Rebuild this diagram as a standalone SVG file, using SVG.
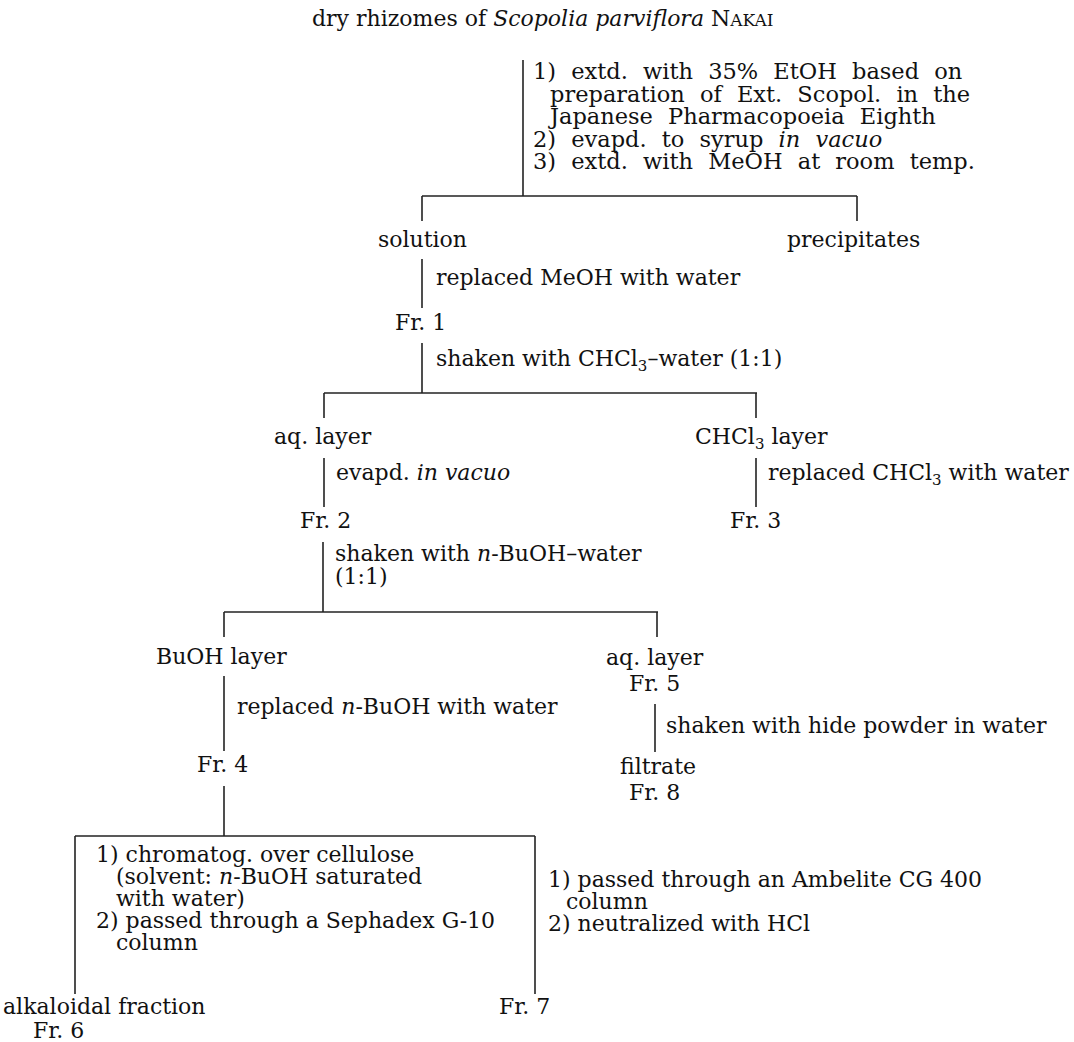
<svg xmlns="http://www.w3.org/2000/svg" width="1074" height="1042" viewBox="0 0 1074 1042">
<style>
text{font-family:"DejaVu Serif","Liberation Serif",serif;font-size:22px;fill:#111}
.i{font-style:italic}
.sc{font-size:17px}
.sb{font-size:15px}
.top{font-size:22.5px;word-spacing:8px}
.c line{stroke:#222;stroke-width:1.6;fill:none}
</style>
<rect width="1074" height="1042" fill="#fff"/>
<g id="connectors" class="c">
<line x1="523" y1="60" x2="523" y2="196"/>
<line x1="422" y1="196" x2="857" y2="196"/>
<line x1="422" y1="196" x2="422" y2="221"/>
<line x1="857" y1="196" x2="857" y2="221"/>
<line x1="422" y1="259" x2="422" y2="308"/>
<line x1="422" y1="343" x2="422" y2="393"/>
<line x1="324" y1="393" x2="757" y2="393"/>
<line x1="324" y1="393" x2="324" y2="418"/>
<line x1="756" y1="393" x2="756" y2="418"/>
<line x1="324" y1="458" x2="324" y2="507"/>
<line x1="756" y1="458" x2="756" y2="507"/>
<line x1="323" y1="542" x2="323" y2="612"/>
<line x1="224" y1="612" x2="658" y2="612"/>
<line x1="224" y1="612" x2="224" y2="637"/>
<line x1="657" y1="612" x2="657" y2="637"/>
<line x1="224" y1="676" x2="224" y2="751"/>
<line x1="655" y1="704" x2="655" y2="752"/>
<line x1="224" y1="786" x2="224" y2="836"/>
<line x1="75" y1="836" x2="535" y2="836"/>
<line x1="75" y1="836" x2="75" y2="994"/>
<line x1="535" y1="836" x2="535" y2="994"/>
</g>
<g id="labels">
<text class="top" x="533" y="79"><tspan>1) extd. with 35% EtOH based on</tspan><tspan x="550" dy="22.5">preparation of Ext. Scopol. in the</tspan><tspan x="550" dy="22.5">Japanese Pharmacopoeia Eighth</tspan><tspan x="533" dy="22.5">2) evapd. to syrup <tspan class="i">in vacuo</tspan></tspan><tspan x="533" dy="22.5">3) extd. with MeOH at room temp.</tspan></text>
<text x="436" y="285">replaced MeOH with water</text>
<text x="436" y="366">shaken with CHCl<tspan class="sb" dy="5">3</tspan><tspan dy="-5">–water (1:1)</tspan></text>
<text x="336" y="480">evapd. <tspan class="i">in vacuo</tspan></text>
<text x="768" y="480">replaced CHCl<tspan class="sb" dy="5">3</tspan><tspan dy="-5"> with water</tspan></text>
<text x="335" y="561"><tspan>shaken with <tspan class="i">n</tspan>-BuOH–water</tspan><tspan x="335" dy="23">(1:1)</tspan></text>
<text x="237" y="714">replaced <tspan class="i">n</tspan>-BuOH with water</text>
<text x="666" y="733">shaken with hide powder in water</text>
<text x="96" y="862"><tspan>1) chromatog. over cellulose</tspan><tspan x="116" dy="22">(solvent: <tspan class="i">n</tspan>-BuOH saturated</tspan><tspan x="116" dy="22">with water)</tspan><tspan x="96" dy="22">2) passed through a Sephadex G-10</tspan><tspan x="116" dy="22">column</tspan></text>
<text x="548" y="887"><tspan>1) passed through an Ambelite CG 400</tspan><tspan x="566" dy="22">column</tspan><tspan x="548" dy="22">2) neutralized with HCl</tspan></text>
</g>
<g id="n-start"><text x="312" y="26">dry rhizomes of <tspan class="i">Scopolia parviflora</tspan> N<tspan class="sc">AKAI</tspan></text></g>
<g id="n-solution"><text x="378" y="247">solution</text></g>
<g id="n-precipitates"><text x="787" y="247">precipitates</text></g>
<g id="n-fr1"><text x="395" y="330">Fr. 1</text></g>
<g id="n-aq1"><text x="274" y="444">aq. layer</text></g>
<g id="n-chcl3"><text x="695" y="444">CHCl<tspan class="sb" dy="5">3</tspan><tspan dy="-5"> layer</tspan></text></g>
<g id="n-fr2"><text x="300" y="528">Fr. 2</text></g>
<g id="n-fr3"><text x="730" y="528">Fr. 3</text></g>
<g id="n-buoh"><text x="156" y="664">BuOH layer</text></g>
<g id="n-fr5"><text x="606" y="665"><tspan>aq. layer</tspan><tspan x="629" dy="26">Fr. 5</tspan></text></g>
<g id="n-fr4"><text x="197" y="772">Fr. 4</text></g>
<g id="n-fr8"><text x="620" y="774"><tspan>filtrate</tspan><tspan x="629" dy="26">Fr. 8</tspan></text></g>
<g id="n-fr6"><text x="3" y="1014"><tspan>alkaloidal fraction</tspan><tspan x="33" dy="24">Fr. 6</tspan></text></g>
<g id="n-fr7"><text x="499" y="1014">Fr. 7</text></g>
</svg>
